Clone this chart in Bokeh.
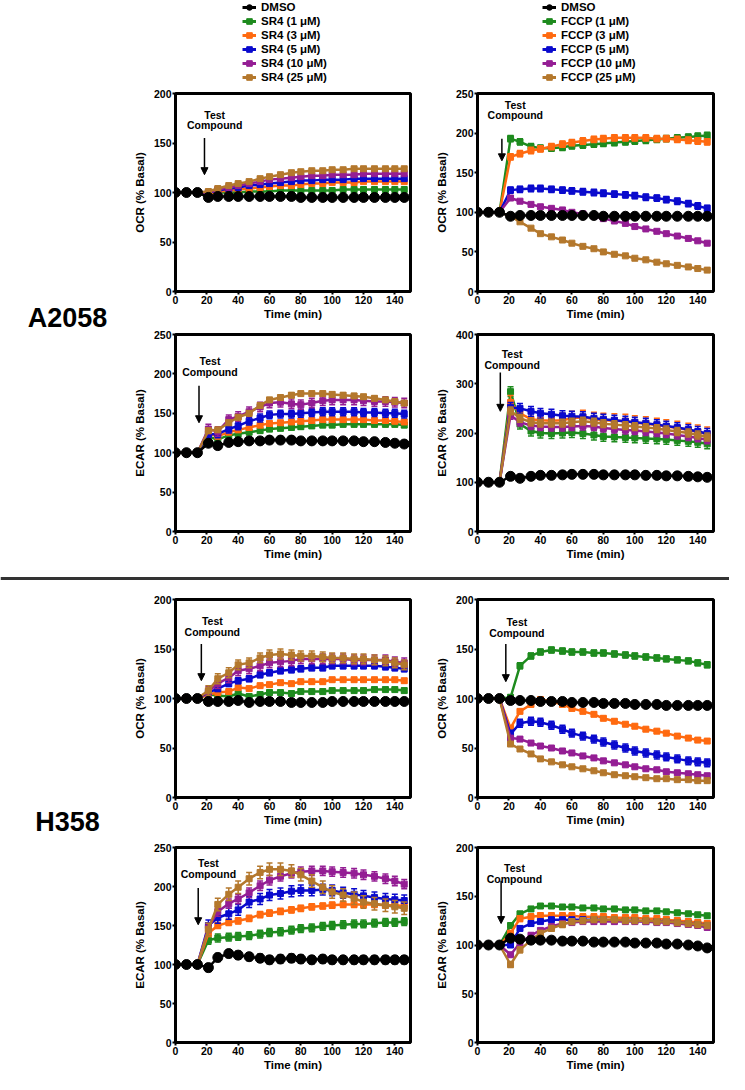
from bokeh.plotting import figure
from bokeh.layouts import column, row
from bokeh.models import FixedTicker, Legend, LegendItem, Label, Arrow, NormalHead, Span
from bokeh.embed import file_html
from bokeh.resources import INLINE
from bokeh.core.properties import value

# ---------------- data ----------------
time_min = [0, 7, 14, 21, 27, 34, 40, 47, 54, 60, 67, 74, 80, 87, 94, 100, 107, 114, 120, 127, 134, 140, 146]
x_ticks = [0, 20, 40, 60, 80, 100, 120, 140]
injection_time = 17  # points before this are the basal readings (normalised, no spread)

sr4_labels = ["DMSO", "SR4 (1 μM)", "SR4 (3 μM)", "SR4 (5 μM)", "SR4 (10 μM)", "SR4 (25 μM)"]
fccp_labels = ["DMSO", "FCCP (1 μM)", "FCCP (3 μM)", "FCCP (5 μM)", "FCCP (10 μM)", "FCCP (25 μM)"]

# A2058 OCR, SR4
a_ocr_sr4_dmso = [100, 100, 100, 95, 96, 96, 96, 96, 96, 96, 96, 96, 95, 95, 95, 95, 95, 95, 95, 95, 95, 95, 95]
a_ocr_sr4_1 = [100, 100, 100, 99, 100, 100, 100, 101, 101, 101, 102, 102, 102, 102, 102, 102, 103, 103, 103, 103, 103, 103, 103]
a_ocr_sr4_3 = [100, 100, 100, 99, 101, 102, 103, 104, 105, 106, 107, 107, 108, 109, 109, 110, 110, 110, 111, 111, 111, 111, 111]
a_ocr_sr4_5 = [100, 100, 100, 100, 102, 104, 105, 107, 108, 109, 110, 111, 112, 112, 113, 113, 113, 114, 114, 114, 114, 114, 114]
a_ocr_sr4_10 = [100, 100, 100, 100, 103, 105, 107, 109, 111, 113, 114, 115, 116, 117, 117, 118, 118, 118, 119, 119, 119, 119, 119]
a_ocr_sr4_25 = [100, 100, 100, 101, 104, 107, 109, 111, 114, 116, 118, 120, 121, 122, 122, 123, 123, 124, 124, 124, 124, 124, 124]
a_ocr_sr4_err = [1, 1, 1, 1, 1.5, 1.5]

# A2058 OCR, FCCP
a_ocr_fccp_dmso = [100, 100, 100, 95, 96, 96, 96, 96, 96, 96, 96, 96, 95, 95, 95, 95, 95, 95, 95, 95, 95, 95, 95]
a_ocr_fccp_1 = [100, 100, 100, 193, 189, 183, 181, 181, 182, 184, 185, 186, 187, 188, 189, 190, 191, 192, 193, 194, 195, 196, 197]
a_ocr_fccp_3 = [100, 100, 100, 170, 174, 178, 180, 183, 186, 188, 190, 192, 193, 194, 194, 194, 194, 193, 193, 192, 191, 190, 189]
a_ocr_fccp_5 = [100, 100, 100, 128, 129, 130, 130, 129, 128, 127, 126, 125, 124, 123, 122, 121, 119, 118, 116, 114, 111, 108, 105]
a_ocr_fccp_10 = [100, 100, 100, 118, 114, 110, 107, 105, 103, 100, 98, 95, 92, 89, 86, 82, 79, 76, 73, 70, 67, 64, 61]
a_ocr_fccp_25 = [100, 100, 100, 95, 88, 80, 73, 69, 65, 61, 57, 54, 50, 47, 45, 42, 40, 37, 35, 33, 31, 29, 27]
a_ocr_fccp_err = [1, 4, 4, 4, 2, 1]

# A2058 ECAR, SR4
a_ecar_sr4_dmso = [100, 100, 100, 112, 109, 113, 114, 115, 115, 116, 116, 116, 115, 115, 115, 115, 115, 115, 114, 114, 113, 112, 111]
a_ecar_sr4_1 = [100, 100, 100, 120, 117, 122, 124, 126, 128, 130, 131, 132, 133, 134, 135, 135, 136, 136, 136, 136, 136, 136, 135]
a_ecar_sr4_3 = [100, 100, 100, 124, 121, 126, 129, 132, 135, 137, 138, 139, 140, 141, 142, 142, 142, 142, 142, 141, 141, 140, 139]
a_ecar_sr4_5 = [100, 100, 100, 123, 124, 130, 134, 140, 144, 148, 149, 149, 150, 151, 152, 152, 152, 152, 151, 151, 150, 150, 149]
a_ecar_sr4_10 = [100, 100, 100, 130, 127, 142, 146, 152, 158, 163, 164, 162, 161, 163, 166, 167, 167, 167, 166, 165, 165, 164, 163]
a_ecar_sr4_25 = [100, 100, 100, 128, 129, 138, 145, 150, 160, 167, 170, 173, 175, 175, 175, 174, 173, 172, 171, 169, 167, 165, 163]
a_ecar_sr4_err = [2, 3, 3, 5, 6, 3]

# A2058 ECAR, FCCP
a_ecar_fccp_dmso = [100, 100, 100, 112, 108, 112, 114, 114, 115, 116, 116, 116, 115, 115, 115, 115, 114, 114, 113, 113, 112, 111, 110]
a_ecar_fccp_1 = [100, 100, 100, 284, 218, 204, 200, 199, 200, 201, 199, 196, 193, 192, 191, 190, 189, 188, 187, 185, 183, 181, 178]
a_ecar_fccp_3 = [100, 100, 100, 262, 240, 228, 226, 225, 226, 230, 232, 228, 226, 225, 224, 221, 219, 216, 213, 210, 206, 202, 198]
a_ecar_fccp_5 = [100, 100, 100, 252, 250, 244, 240, 238, 235, 234, 233, 230, 228, 226, 224, 222, 220, 217, 214, 211, 207, 203, 199]
a_ecar_fccp_10 = [100, 100, 100, 236, 222, 215, 213, 212, 212, 213, 214, 213, 210, 208, 206, 205, 203, 201, 199, 196, 193, 190, 186]
a_ecar_fccp_25 = [100, 100, 100, 245, 230, 222, 220, 220, 220, 222, 224, 222, 219, 217, 215, 213, 211, 209, 206, 203, 200, 196, 192]
a_ecar_fccp_err = [3, 10, 14, 10, 8, 8]

# H358 OCR, SR4
h_ocr_sr4_dmso = [100, 100, 100, 97, 97, 97, 98, 96, 97, 97, 97, 96, 96, 96, 96, 97, 97, 97, 97, 97, 97, 97, 97]
h_ocr_sr4_1 = [100, 100, 100, 104, 103, 102, 105, 102, 104, 106, 106, 105, 107, 107, 107, 108, 108, 108, 108, 109, 109, 109, 108]
h_ocr_sr4_3 = [100, 100, 100, 104, 106, 107, 111, 110, 113, 114, 116, 115, 117, 117, 117, 119, 119, 119, 119, 119, 119, 119, 118]
h_ocr_sr4_5 = [100, 100, 100, 106, 110, 115, 118, 120, 124, 126, 128, 129, 130, 131, 131, 133, 133, 133, 133, 133, 132, 131, 130]
h_ocr_sr4_10 = [100, 100, 100, 107, 115, 121, 128, 130, 133, 136, 137, 138, 140, 140, 140, 140, 140, 139, 139, 139, 139, 137, 136]
h_ocr_sr4_25 = [100, 100, 100, 108, 120, 126, 134, 136, 141, 144, 145, 144, 143, 143, 142, 141, 141, 140, 140, 139, 138, 136, 134]
h_ocr_sr4_err = [1.5, 2, 2, 3, 5, 5]

# H358 OCR, FCCP
h_ocr_fccp_dmso = [100, 100, 100, 98, 98, 98, 97, 97, 97, 96, 96, 96, 95, 95, 95, 94, 94, 94, 93, 93, 93, 93, 93]
h_ocr_fccp_1 = [100, 100, 100, 101, 133, 143, 147, 149, 148, 147, 147, 146, 146, 145, 144, 143, 142, 141, 140, 139, 138, 136, 134]
h_ocr_fccp_3 = [100, 100, 100, 70, 87, 94, 99, 97, 94, 90, 87, 84, 80, 77, 74, 72, 69, 67, 65, 62, 60, 58, 57]
h_ocr_fccp_5 = [100, 100, 100, 64, 75, 77, 76, 73, 69, 65, 62, 59, 56, 53, 50, 47, 45, 43, 41, 39, 37, 36, 35]
h_ocr_fccp_10 = [100, 100, 100, 60, 59, 55, 52, 50, 47, 45, 42, 40, 37, 35, 33, 31, 29, 28, 26, 25, 24, 23, 22]
h_ocr_fccp_25 = [100, 100, 100, 54, 49, 44, 39, 36, 33, 31, 29, 27, 25, 23, 22, 21, 20, 19, 19, 18, 18, 17, 17]
h_ocr_fccp_err = [1.5, 3, 2, 4, 2, 1.5]

# H358 ECAR, SR4
h_ecar_sr4_dmso = [100, 100, 100, 96, 109, 114, 112, 110, 108, 106, 107, 108, 107, 106, 107, 106, 106, 106, 106, 106, 106, 106, 106]
h_ecar_sr4_1 = [100, 100, 100, 131, 134, 135, 136, 137, 139, 141, 142, 144, 146, 147, 149, 150, 151, 152, 152, 153, 154, 154, 155]
h_ecar_sr4_3 = [100, 100, 100, 140, 150, 154, 156, 159, 164, 166, 168, 170, 172, 174, 175, 176, 177, 177, 177, 177, 176, 176, 175]
h_ecar_sr4_5 = [100, 100, 100, 150, 160, 165, 170, 180, 184, 189, 191, 194, 195, 195, 196, 195, 192, 190, 188, 186, 184, 183, 182]
h_ecar_sr4_10 = [100, 100, 100, 147, 168, 178, 184, 192, 201, 208, 213, 217, 219, 220, 220, 219, 218, 217, 215, 213, 210, 207, 203]
h_ecar_sr4_25 = [100, 100, 100, 145, 177, 190, 199, 210, 218, 222, 222, 220, 215, 207, 199, 193, 189, 185, 180, 178, 176, 174, 172]
h_ecar_sr4_err = [5, 5, 4, 7, 6, 8]

# H358 ECAR, FCCP
h_ecar_fccp_dmso = [100, 100, 100, 107, 106, 105, 105, 105, 104, 104, 104, 103, 103, 103, 103, 102, 102, 102, 101, 101, 100, 99, 97]
h_ecar_fccp_1 = [100, 100, 100, 120, 132, 137, 140, 140, 139, 139, 138, 138, 137, 137, 136, 136, 135, 135, 134, 133, 132, 131, 130]
h_ecar_fccp_3 = [100, 100, 100, 112, 127, 129, 130, 130, 130, 130, 129, 129, 129, 128, 128, 128, 127, 127, 126, 125, 124, 123, 122]
h_ecar_fccp_5 = [100, 100, 100, 100, 117, 122, 124, 126, 126, 126, 126, 126, 126, 125, 125, 125, 124, 124, 124, 123, 122, 121, 120]
h_ecar_fccp_10 = [100, 100, 100, 90, 102, 110, 115, 119, 122, 123, 124, 124, 124, 124, 124, 124, 124, 123, 123, 122, 121, 120, 118]
h_ecar_fccp_25 = [100, 100, 100, 80, 95, 105, 112, 117, 121, 124, 125, 126, 126, 126, 125, 125, 125, 124, 124, 123, 122, 121, 120]
h_ecar_fccp_err = [2, 2, 3, 2, 2, 3]

# ---------------- styles ----------------
FONT = "Liberation Sans"
COLORS = ["#000000", "#1E8B1E", "#FF6A10", "#0A0ACD", "#941E94", "#B4782D"]


def make_panel(ylabel, ymax, ystep, series, errs, ann, frame_w, frame_h, bl, br, bt, bb):
    p = figure(frame_width=frame_w, frame_height=frame_h, x_range=(0, 150), y_range=(0, ymax),
               output_backend="svg", toolbar_location=None,
               min_border_left=bl, min_border_right=br, min_border_top=bt, min_border_bottom=bb,
               x_axis_label="Time (min)", y_axis_label=ylabel)
    p.grid.visible = False
    p.outline_line_color = "black"
    p.outline_line_width = 3
    p.xaxis.ticker = FixedTicker(ticks=x_ticks)
    p.yaxis.ticker = FixedTicker(ticks=list(range(0, ymax + 1, ystep)))
    for ax in (p.xaxis[0], p.yaxis[0]):
        ax.axis_line_width = 3
        ax.axis_line_color = "black"
        ax.major_tick_line_width = 2
        ax.major_tick_out = 3
        ax.major_tick_in = 0
        ax.minor_tick_line_color = None
        ax.major_label_text_font = FONT
        ax.major_label_text_font_style = "bold"
        ax.major_label_text_font_size = "10.5px"
        ax.major_label_text_color = "black"
        ax.major_label_standoff = 1
        ax.axis_label_text_font = FONT
        ax.axis_label_text_font_style = "bold"
        ax.axis_label_text_font_size = "11.5px"
        ax.axis_label_text_color = "black"
    p.xaxis[0].axis_label_standoff = 1
    p.yaxis[0].axis_label_standoff = 5

    order = [1, 2, 3, 4, 5, 0]
    for i in order:
        ys = series[i]
        col = COLORS[i]
        e = errs[i]
        tt = [t for t in time_min if t > injection_time]
        yy_ = [v for t, v in zip(time_min, ys) if t > injection_time]
        lo = [v - e for v in yy_]
        hi = [v + e for v in yy_]
        p.segment(tt, lo, tt, hi, line_color=col, line_width=1.5)
        p.scatter(tt, lo, marker="dash", size=6, line_color=col, line_width=1.5)
        p.scatter(tt, hi, marker="dash", size=6, line_color=col, line_width=1.5)
        p.line(time_min, ys, line_color=col, line_width=2.5)
        if i == 0:
            p.scatter(time_min, ys, marker="circle", size=10, fill_color=col, line_color=col)
        else:
            p.scatter(time_min, ys, marker="square", size=6, fill_color=col, line_color=col)

    tx, ty1, ty2, axx, ay0, ay1 = ann
    for txt, yy in (("Test", ty1), ("Compound", ty2)):
        p.add_layout(Label(x=tx, y=yy, text=txt, text_align="center", text_baseline="middle",
                           text_font=FONT, text_font_style="bold", text_font_size="10.5px",
                           text_color="black"))
    p.add_layout(Arrow(end=NormalHead(size=7, fill_color="black", line_color="black", line_width=1),
                       x_start=axx, y_start=ay0, x_end=axx, y_end=ay1,
                       line_width=1.5, line_color="black"))
    return p


def make_text_fig(text, w, h, x, y_from_top, size):
    p = figure(width=w, height=h, x_range=(0, w), y_range=(0, h), output_backend="svg",
               toolbar_location=None, min_border=0, x_axis_location=None, y_axis_location=None)
    p.grid.visible = False
    p.outline_line_color = None
    p.text(x=[x], y=[h - y_from_top], text=[text], text_font=value(FONT), text_font_style="bold",
           text_font_size=size, text_align="center", text_baseline="middle", text_color="black")
    return p


# ---------------- legend strip ----------------
leg_fig = figure(width=729, height=84, x_range=(0, 1), y_range=(0, 1), output_backend="svg",
                 toolbar_location=None, min_border=0, x_axis_location=None, y_axis_location=None)
leg_fig.grid.visible = False
leg_fig.outline_line_color = None
for labels, loc in ((sr4_labels, (242, 0)), (fccp_labels, (542, 0))):
    items = []
    for i, lab in enumerate(labels):
        # placeholder renderers (outside the visible range) that give the legend its glyphs
        r1 = leg_fig.line(x=[5, 6], y=[5, 5], line_color=COLORS[i], line_width=3)
        if i == 0:
            r2 = leg_fig.scatter(x=[5], y=[5], marker="circle", size=9, fill_color=COLORS[i], line_color=COLORS[i])
        else:
            r2 = leg_fig.scatter(x=[5], y=[5], marker="square", size=6, fill_color=COLORS[i], line_color=COLORS[i])
        items.append(LegendItem(label=lab, renderers=[r1, r2]))
    leg = Legend(items=items, location=loc, padding=0, margin=0, spacing=0,
                 glyph_width=14, glyph_height=14, label_height=14, label_standoff=5,
                 label_text_font=FONT, label_text_font_style="bold", label_text_font_size="11.5px",
                 label_text_color="black",
                 border_line_color=None, background_fill_alpha=0)
    leg_fig.add_layout(leg)

# ---------------- panels ----------------
pA1L = make_panel("OCR (% Basal)", 200, 50,
                  [a_ocr_sr4_dmso, a_ocr_sr4_1, a_ocr_sr4_3, a_ocr_sr4_5, a_ocr_sr4_10, a_ocr_sr4_25],
                  a_ocr_sr4_err, (25, 178, 168, 18.5, 155, 118), 235, 198, 55, 10, 9, 34)
pA1R = make_panel("OCR (% Basal)", 250, 50,
                  [a_ocr_fccp_dmso, a_ocr_fccp_1, a_ocr_fccp_3, a_ocr_fccp_5, a_ocr_fccp_10, a_ocr_fccp_25],
                  a_ocr_fccp_err, (24, 236, 223, 15.5, 193, 165), 236, 198, 57, 10, 9, 34)
pA2L = make_panel("ECAR (% Basal)", 250, 50,
                  [a_ecar_sr4_dmso, a_ecar_sr4_1, a_ecar_sr4_3, a_ecar_sr4_5, a_ecar_sr4_10, a_ecar_sr4_25],
                  a_ecar_sr4_err, (22, 216, 203, 15, 185, 138), 235, 197, 55, 10, 9, 36)
pA2R = make_panel("ECAR (% Basal)", 400, 100,
                  [a_ecar_fccp_dmso, a_ecar_fccp_1, a_ecar_fccp_3, a_ecar_fccp_5, a_ecar_fccp_10, a_ecar_fccp_25],
                  a_ecar_fccp_err, (22, 361, 339, 14.5, 323, 244), 236, 197, 57, 10, 9, 36)
pH1L = make_panel("OCR (% Basal)", 200, 50,
                  [h_ocr_sr4_dmso, h_ocr_sr4_1, h_ocr_sr4_3, h_ocr_sr4_5, h_ocr_sr4_10, h_ocr_sr4_25],
                  h_ocr_sr4_err, (23.5, 178, 167, 16.5, 155, 118), 235, 198, 55, 10, 10, 35)
pH1R = make_panel("OCR (% Basal)", 200, 50,
                  [h_ocr_fccp_dmso, h_ocr_fccp_1, h_ocr_fccp_3, h_ocr_fccp_5, h_ocr_fccp_10, h_ocr_fccp_25],
                  h_ocr_fccp_err, (25, 177, 166, 18, 155, 117), 236, 198, 57, 10, 10, 35)
pH2L = make_panel("ECAR (% Basal)", 250, 50,
                  [h_ecar_sr4_dmso, h_ecar_sr4_1, h_ecar_sr4_3, h_ecar_sr4_5, h_ecar_sr4_10, h_ecar_sr4_25],
                  h_ecar_sr4_err, (21, 230, 216, 14.5, 198, 151), 235, 195, 55, 10, 15, 32)
pH2R = make_panel("ECAR (% Basal)", 200, 50,
                  [h_ecar_fccp_dmso, h_ecar_fccp_1, h_ecar_fccp_3, h_ecar_fccp_5, h_ecar_fccp_10, h_ecar_fccp_25],
                  h_ecar_fccp_err, (23.5, 179, 168, 15, 166, 122), 236, 195, 57, 10, 15, 32)

labA = make_text_fig("A2058", 120, 483, 67, 233, "27px")
labH = make_text_fig("H358", 120, 485, 67, 232, "27px")

div_fig = figure(width=729, height=22, x_range=(0, 1), y_range=(0, 1), output_backend="svg",
                 toolbar_location=None, min_border=0, x_axis_location=None, y_axis_location=None)
div_fig.grid.visible = False
div_fig.outline_line_color = None
div_fig.add_layout(Span(location=0.5, dimension="width", line_color="#333333", line_width=3))

secA = row(labA, column(row(pA1L, pA1R), row(pA2L, pA2R)))
secH = row(labH, column(row(pH1L, pH1R), row(pH2L, pH2R)))
layout = column(leg_fig, secA, div_fig, secH)

open("out.html", "w").write(file_html(layout, INLINE))
